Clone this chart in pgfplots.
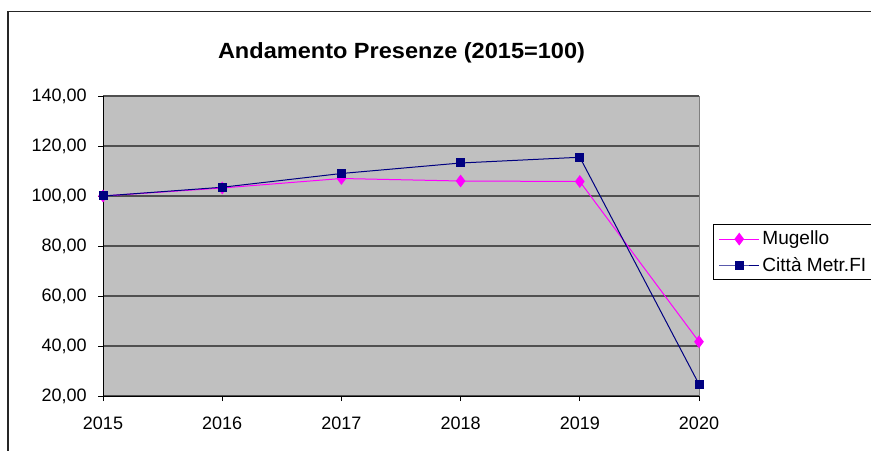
\documentclass[border=0pt]{standalone}
\usepackage{graphicx}
\usepackage{pgfplots}
\pgfplotsset{compat=1.18}
\usepackage{fontspec}
\setmainfont{Liberation Sans}
\definecolor{plotbg}{RGB}{192,192,192}
\definecolor{gridc}{RGB}{80,80,80}
\definecolor{mugello}{RGB}{255,0,255}
\definecolor{citta}{RGB}{0,0,128}

\begin{document}
\begin{tikzpicture}[x=0.75pt,y=0.75pt]
  \useasboundingbox (0,0) rectangle (871,450);
  \clip (0,0) rectangle (871,450);
  % cornice del grafico (tagliata a destra e in basso)
  \draw[line width=0.9pt,black!85] (8,-5) -- (8,438.5) -- (880,438.5);

  \node[anchor=base,font=\fontsize{16.5pt}{18pt}\selectfont\bfseries]
    at (401.5,391.7) {\scalebox{1.07}[1]{Andamento Presenze (2015=100)}};

  \begin{axis}[
    at={(77.25pt,40.5pt)}, anchor=south west,
    width=447pt, height=225pt, scale only axis,
    xmin=2015, xmax=2020, ymin=20, ymax=140,
    axis background/.style={fill=plotbg},
    axis line style={draw=none},
    xtick={2015,2016,2017,2018,2019,2020},
    xticklabels={2015,2016,2017,2018,2019,2020},
    ytick={20,40,60,80,100,120,140},
    xtick pos=bottom, ytick pos=left,
    tick align=outside, major tick length=3.75pt,
    tick style={black, line width=0.6pt},
    ymajorgrids,
    major grid style={gridc, line width=1.1pt},
    /pgf/number format/assume math mode=true,
    /pgf/number format/fixed,
    /pgf/number format/fixed zerofill,
    /pgf/number format/precision=2,
    /pgf/number format/use comma,
    /pgf/number format/1000 sep={},
    ticklabel style={font=\fontsize{13.5pt}{15pt}\selectfont},
    yticklabel style={xshift=-5pt},
    xticklabel style={yshift=-8.5pt},
    clip=false,
    legend style={at={(axis description cs:1.0235,0.573)}, anchor=north west,
      draw=black, fill=white, line width=0.6pt,
      font=\fontsize{14.3pt}{16pt}\selectfont,
      inner xsep=4pt, inner ysep=3pt, row sep=3.5pt},
    legend cell align=left,
    legend image code/.code={%
      \draw[#1,mark repeat=2,mark phase=2] plot coordinates {(0pt,0pt) (15pt,0pt) (30pt,0pt)};},
  ]
    \addplot[mugello, line width=0.75pt, mark=diamond*, mark size=4.2pt,
      mark options={solid, fill=mugello, draw=mugello}]
      coordinates {(2015,100) (2016,103.2) (2017,107.0) (2018,106.0) (2019,105.8) (2020,41.7)};
    \addlegendentry{Mugello}
    \addplot[citta, line width=0.75pt, mark=square*, mark size=3pt,
      mark options={solid, fill=citta, draw=citta}]
      coordinates {(2015,100) (2016,103.5) (2017,109.0) (2018,113.2) (2019,115.5) (2020,24.7)};
    \addlegendentry{Città Metr.FI}
    \draw[gray, line width=0.75pt] (rel axis cs:1,0) -- (rel axis cs:1,1);
    \draw[gridc, line width=0.75pt] (rel axis cs:0,1) -- (rel axis cs:1,1);
    \draw[black, line width=0.75pt] (rel axis cs:0,1) -- (rel axis cs:0,0) -- (rel axis cs:1,0);
  \end{axis}
\end{tikzpicture}
\end{document}
